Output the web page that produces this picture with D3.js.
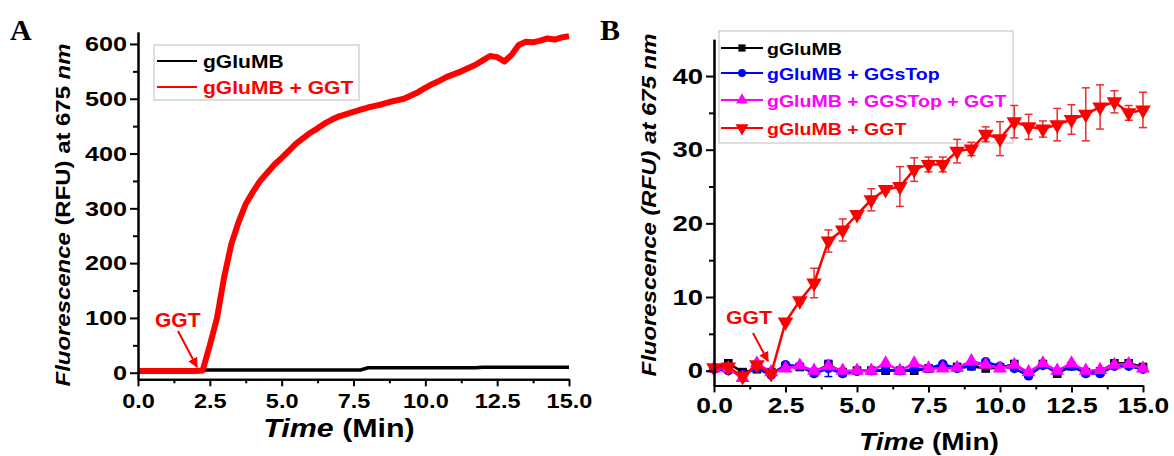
<!DOCTYPE html>
<html>
<head>
<meta charset="utf-8">
<script src="https://cdn.jsdelivr.net/npm/d3@7"></script>
<style>
body { margin: 0; background: #fff; }
svg text { font-family: "Liberation Sans", Arial, sans-serif; font-weight: bold; }
.axis path, .axis line { stroke: #000; stroke-width: 2; }
</style>
</head>
<body>
<script>
// panel A: continuous trace, read every 0.25 min
var timeA = [0,0.25,0.5,0.75,1,1.25,1.5,1.75,2,2.25,2.5,2.75,3,3.25,3.5,3.75,4,4.25,4.5,4.75,
    5,5.25,5.5,5.75,6,6.25,6.5,6.75,7,7.25,7.5,7.75,8,8.25,8.5,8.75,9,9.25,9.5,9.75,
    10,10.25,10.5,10.75,11,11.25,11.5,11.75,12,12.25,12.5,12.75,13,13.25,13.5,13.75,14,14.25,14.5,14.75,15];
var probeA = [5,5,5,5,5,5,5,5,5,5,5,5,5,5,5,5,5,5,5,5,
    5,5,5,5,5,5,5,5,5,5,5,5,9,9,9,9,9,9,9,9,
    9,9,9,9,9,9,9,9,10,10,10,10,10,10,10,10,10,10,10,10,10];
var probeGgtA = [3,3,3,3,3,3,3,3,3,4,50,100,175,235,275,308,330,350,365,380,
    392,405,418,428,438,446,455,462,468,472,476,480,484,487,490,494,497,500,506,512,
    520,527,533,540,545,550,556,562,570,578,576,568,580,598,604,603,606,610,608,612,614];

// panel B: readings every 0.5 min
var timeB = [0,0.5,1,1.5,2,2.5,3,3.5,4,4.5,5,5.5,6,6.5,7,7.5,8,8.5,9,9.5,10,10.5,11,11.5,12,12.5,13,13.5,14,14.5,15];
var probeB = [0.3,1.0,-0.2,0.2,-0.2,0.5,0.5,-0.2,0.8,-0.2,0,0,0,0,0,0.3,0.5,0.5,0.6,0.3,0.4,0.9,-0.4,0.9,-0.4,0.6,-0.2,-0.1,1.0,1.0,0.5];
var probeTopB = [0.2,0,-0.5,0.3,-0.6,0.8,0.6,-0.4,0.3,-0.4,-0.1,0,0.1,0,0.2,0.3,0.9,0.3,0.6,1.2,0.6,0.3,-0.7,0.7,-0.1,0.6,-0.4,-0.4,0.6,0.6,0.2];
var probeTopErrB = [0.3,0.3,0.3,0.3,0.3,0.3,0.3,0.3,1.1,0.3,0.3,0.3,0.3,0.3,0.3,0.3,0.3,0.3,0.3,0.3,0.3,0.3,0.3,0.3,0.3,0.3,0.3,0.3,0.3,0.3,0.3];
var probeTopGgtB = [0.3,0.3,-1.0,1.0,-0.2,0.3,0.7,0,0.6,0,0,0,1.0,0,1.0,0.3,0.3,0.4,1.3,0.8,0.3,0.8,-0.2,1.0,0,1.0,0,0.1,0.8,0.9,0.3];
var probeGgtB = [0.4,0.5,-0.8,0.8,-0.4,6.6,9.5,11.9,17.6,19.1,21.2,23.2,24.6,25.0,27.3,28.0,28.0,29.8,30.1,32.1,31.5,33.8,33.1,32.8,33.4,34.1,34.8,35.8,36.5,35.0,35.4];
var probeGgtErrB = [0.3,0.3,0.4,0.4,0.3,0.3,0.4,2.0,1.5,1.5,0.5,1.5,0.4,2.7,1.6,1.0,1.0,1.6,0.9,1.0,2.3,2.2,1.7,1.1,2.2,2.0,3.6,3.0,1.5,1.0,2.4];

var xTicks = [0,2.5,5,7.5,10,12.5,15];
var xMinor = [1.25,3.75,6.25,8.75,11.25,13.75];
var yTicksA = [0,100,200,300,400,500,600];
var yMinorA = [50,150,250,350,450,550];
var yTicksB = [0,10,20,30,40];
var yMinorB = [5,15,25,35];

var width = 1174, height = 456;

var svg = d3.select("body").append("svg")
    .attr("width", width)
    .attr("height", height);

var defs = svg.append("defs");
defs.append("marker")
    .attr("id", "arrow")
    .attr("viewBox", "0 0 10 10")
    .attr("refX", 9).attr("refY", 5)
    .attr("markerWidth", 5).attr("markerHeight", 5)
    .attr("orient", "auto")
    .append("path")
    .attr("d", "M0,0 L10,5 L0,10 z")
    .attr("fill", "#f00");

// the source figure is a bit stretched sideways, so texts get a small x scale
function label(g, x, y, size, sx, color) {
    return g.append("text")
        .attr("transform", "translate(" + x + "," + y + ") scale(" + sx + ",1)")
        .attr("font-size", size)
        .attr("fill", color || "#000");
}

function drawAxes(g, x, y, o) {
    g.append("g").attr("class", "axis")
        .attr("transform", "translate(0," + y.range()[0] + ")")
        .call(d3.axisBottom(x).tickValues(xMinor).tickSize(4).tickSizeOuter(0).tickFormat(""));
    var ax = g.append("g").attr("class", "axis")
        .attr("transform", "translate(0," + y.range()[0] + ")")
        .call(d3.axisBottom(x).tickValues(xTicks).tickSize(7).tickSizeOuter(0).tickFormat(d3.format(".1f")));
    ax.selectAll("text").attr("font-size", o.fsx).attr("y", o.xdy).attr("dy", "0.71em")
        .attr("fill", "#000").attr("transform", "scale(" + o.sxx + ",1)");

    g.append("g").attr("class", "axis")
        .attr("transform", "translate(" + x.range()[0] + ",0)")
        .call(d3.axisLeft(y).tickValues(o.ym).tickSize(5).tickSizeOuter(0).tickFormat(""));
    var ay = g.append("g").attr("class", "axis")
        .attr("transform", "translate(" + x.range()[0] + ",0)")
        .call(d3.axisLeft(y).tickValues(o.yt).tickSize(8).tickSizeOuter(0).tickFormat(d3.format("d")));
    ay.selectAll("text").attr("font-size", o.fsy).attr("x", -11 / o.sxy)
        .attr("fill", "#000").attr("transform", "scale(" + o.sxy + ",1)");
}

// ---------- Panel A ----------
var xA = d3.scaleLinear().domain([0, 15]).range([138, 569]);
var yA = d3.scaleLinear().domain([-12, 622]).range([379.3, 31.9]);
var gA = svg.append("g");

var lineA = d3.line()
    .x(function(d) { return xA(d[0]); })
    .y(function(d) { return yA(d[1]); });

gA.append("path")
    .datum(d3.zip(timeA, probeA))
    .attr("d", lineA)
    .attr("fill", "none")
    .attr("stroke", "#000")
    .attr("stroke-width", 3.5);

gA.append("path")
    .datum(d3.zip(timeA, probeGgtA))
    .attr("d", lineA)
    .attr("fill", "none")
    .attr("stroke", "#f00")
    .attr("stroke-width", 6)
    .attr("stroke-linejoin", "round");

drawAxes(gA, xA, yA, {fsx: 21, sxx: 1.12, xdy: 14, fsy: 21, sxy: 1.2, yt: yTicksA, ym: yMinorA});

gA.append("text").attr("x", 10).attr("y", 40)
    .attr("font-size", 30).style("font-family", "'Liberation Serif', serif")
    .text("A");

var ytA = gA.append("text")
    .attr("transform", "translate(70,215) rotate(-90) scale(1.14,1)")
    .attr("text-anchor", "middle")
    .attr("font-size", 21);
ytA.append("tspan").attr("font-style", "italic").text("Fluorescence");
ytA.append("tspan").text(" (RFU) at 675 ");
ytA.append("tspan").attr("font-style", "italic").text("nm");

var xtA = label(gA, 339, 437, 26, 1.17).attr("text-anchor", "middle");
xtA.append("tspan").attr("font-style", "italic").text("Time");
xtA.append("tspan").text(" (Min)");

// legend A
var legA = gA.append("g");
legA.append("rect").attr("x", 154).attr("y", 45).attr("width", 205).attr("height", 55)
    .attr("fill", "none").attr("stroke", "#c8c8c8").attr("stroke-width", 1.2);
[["gGluMB", "#000", 61], ["gGluMB + GGT", "#f00", 87]].forEach(function(e) {
    legA.append("line").attr("x1", 157).attr("x2", 197).attr("y1", e[2]).attr("y2", e[2])
        .attr("stroke", e[1]).attr("stroke-width", 2);
    label(legA, 203, e[2] + 6.5, 18, 1.17, e[1]).text(e[0]);
});

label(gA, 155, 327, 20, 1.05, "#f00").text("GGT");
gA.append("line").attr("x1", 178).attr("y1", 331).attr("x2", 197).attr("y2", 367)
    .attr("stroke", "#f00").attr("stroke-width", 2).attr("marker-end", "url(#arrow)");

// ---------- Panel B ----------
var xB = d3.scaleLinear().domain([0, 15]).range([714, 1143]);
var yB = d3.scaleLinear().domain([-2, 45]).range([385.4, 39.2]);
var gB = svg.append("g");

var seriesB = [
    {name: "gGluMB", color: "#000", vals: probeB, err: null, sym: d3.symbolSquare, size: 75, rot: 0},
    {name: "gGluMB + GGsTop", color: "#00f", vals: probeTopB, err: probeTopErrB, sym: d3.symbolCircle, size: 70, rot: 0},
    {name: "gGluMB + GGSTop + GGT", color: "#f0f", vals: probeTopGgtB, err: null, sym: d3.symbolTriangle, size: 85, rot: 0},
    {name: "gGluMB + GGT", color: "#f00", vals: probeGgtB, err: probeGgtErrB, sym: d3.symbolTriangle, size: 105, rot: 180}
];

// legend B goes under the data
var legB = gB.append("g");
legB.append("rect").attr("x", 719).attr("y", 31).attr("width", 294).attr("height", 112)
    .attr("fill", "none").attr("stroke", "#c8c8c8").attr("stroke-width", 1.2);
var rowsB = [48, 73, 100, 128];
seriesB.forEach(function(s, i) {
    var yy = rowsB[i];
    legB.append("line").attr("x1", 721).attr("x2", 763).attr("y1", yy).attr("y2", yy)
        .attr("stroke", s.color).attr("stroke-width", 2);
    legB.append("path")
        .attr("d", d3.symbol().type(s.sym).size(s.size * 0.7))
        .attr("transform", "translate(742," + yy + ") rotate(" + s.rot + ")")
        .attr("fill", s.color);
    label(legB, 767, yy + 6.5, 17, 1.15, s.color).text(s.name);
});

var lineB = d3.line()
    .x(function(d) { return xB(d[0]); })
    .y(function(d) { return yB(d[1]); });

seriesB.forEach(function(s) {
    var pts = d3.zip(timeB, s.vals);
    var g = gB.append("g");
    if (s.err) {
        var ec = s.color === "#f00" ? "#e83030" : s.color;
        var eb = g.selectAll("g.eb").data(d3.zip(timeB, s.vals, s.err)).enter().append("g");
        eb.append("line")
            .attr("x1", function(d) { return xB(d[0]); })
            .attr("x2", function(d) { return xB(d[0]); })
            .attr("y1", function(d) { return yB(d[1] - d[2]); })
            .attr("y2", function(d) { return yB(d[1] + d[2]); })
            .attr("stroke", ec).attr("stroke-width", 1.5);
        [-1, 1].forEach(function(k) {
            eb.append("line")
                .attr("x1", function(d) { return xB(d[0]) - 4; })
                .attr("x2", function(d) { return xB(d[0]) + 4; })
                .attr("y1", function(d) { return yB(d[1] + k * d[2]); })
                .attr("y2", function(d) { return yB(d[1] + k * d[2]); })
                .attr("stroke", ec).attr("stroke-width", 1.5);
        });
    }
    g.append("path")
        .datum(pts)
        .attr("d", lineB)
        .attr("fill", "none")
        .attr("stroke", s.color)
        .attr("stroke-width", 2.5);
    g.selectAll("path.pt").data(pts).enter().append("path")
        .attr("class", "pt")
        .attr("d", d3.symbol().type(s.sym).size(s.size))
        .attr("transform", function(d) {
            return "translate(" + xB(d[0]) + "," + yB(d[1]) + ") rotate(" + s.rot + ")";
        })
        .attr("fill", s.color);
});

drawAxes(gB, xB, yB, {fsx: 22, sxx: 1.2, xdy: 12, fsy: 22, sxy: 1.25, yt: yTicksB, ym: yMinorB});

gB.append("text").attr("x", 600).attr("y", 40)
    .attr("font-size", 30).style("font-family", "'Liberation Serif', serif")
    .text("B");

gB.append("text")
    .attr("transform", "translate(656,205) rotate(-90) scale(1.14,1)")
    .attr("text-anchor", "middle")
    .attr("font-size", 21)
    .attr("font-style", "italic")
    .text("Fluorescence (RFU) at 675 nm");

var xtB = label(gB, 929, 450, 24, 1.17).attr("text-anchor", "middle");
xtB.append("tspan").attr("font-style", "italic").text("Time");
xtB.append("tspan").text(" (Min)");

label(gB, 726, 324, 19, 1.12, "#f00").text("GGT");
gB.append("line").attr("x1", 753).attr("y1", 333).attr("x2", 768).attr("y2", 361)
    .attr("stroke", "#f00").attr("stroke-width", 2).attr("marker-end", "url(#arrow)");
</script>
</body>
</html>
